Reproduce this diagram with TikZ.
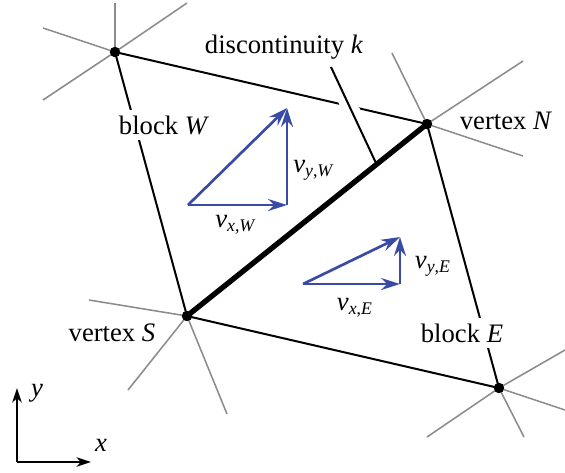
\documentclass[tikz,border=0pt]{standalone}
\usepackage{fontspec}
\setmainfont{Liberation Serif}
\definecolor{vel}{HTML}{3A4BA6}
\definecolor{spokegray}{HTML}{8C8C8C}
\usetikzlibrary{arrows.meta, positioning, calc}
\tikzset{
  vtx/.style={circle, fill=black, inner sep=0pt, minimum size=4.6pt},
  edge/.style={line width=0.9pt},
  spoke/.style={line width=0.7pt, color=spokegray},
  crack/.style={line width=2.4pt, line cap=round},
  vec/.style={-{Stealth[length=3mm, width=1.9mm, inset=1mm]}, line width=1.2pt, color=vel},
  axis/.style={-{Stealth[length=2.3mm, width=1.5mm, inset=0.7mm]}, line width=0.9pt},
  lbl/.style={fill=white, inner sep=2.5pt},
}
\newcommand{\vcomp}[2]{\textit{v}\textsubscript{\textit{#1},\textit{#2}}}

\begin{document}
\begin{tikzpicture}[x=0.45pt, y=-0.45pt, font=\fontsize{12}{14}\selectfont]
  \useasboundingbox (0,0) rectangle (565,472);
  % vertices
  \node[vtx] (vNW) at (115,52) {};
  \node[vtx] (vN) at (427,124) {};
  \node[vtx] (vS) at (187,316) {};
  \node[vtx] (vSE) at (499,388) {};
  % joints of the neighbouring blocks
  \foreach \p in {(115,3),(187,3),(43,28),(43,100)} \draw[spoke] (vNW.center) -- \p;
  \foreach \p in {(392,53),(523,61),(523,156)} \draw[spoke] (vN.center) -- \p;
  \foreach \p in {(89,300),(128,390),(227,414)} \draw[spoke] (vS.center) -- \p;
  \foreach \p in {(565,350),(565,410),(427,437),(524,437)} \draw[spoke] (vSE.center) -- \p;
  % block edges
  \draw[edge] (vNW.center) -- (vN.center) -- (vSE.center) -- (vS.center) -- cycle;
  \coordinate (ktop) at (331,67);
  \coordinate (kfoot) at ($(vS.center)!0.79!(vN.center)$);
  \draw[edge, preaction={draw=white, line width=7.5pt}] (ktop) -- (kfoot);
  \draw[crack] (vS.center) -- (vN.center);
  \foreach \v in {vNW,vN,vS,vSE} \node[vtx] at (\v) {};
  % velocities
  \coordinate (oW) at (188,205); \coordinate (xW) at (287,205); \coordinate (yW) at (287,108);
  \draw[vec] (oW) -- (xW);
  \draw[vec] (xW) -- (yW);
  \draw[vec] (oW) -- (yW);
  \coordinate (oE) at (303,284); \coordinate (xE) at (400,284); \coordinate (yE) at (400,237);
  \draw[vec] (oE) -- (xE);
  \draw[vec] (xE) -- (yE);
  \draw[vec] (oE) -- (yE);
  \node (vxW) at (236,225) {\vcomp{x}{W}};
  \node (vyW) at (314,170) {\vcomp{y}{W}};
  \node (vxE) at (355,308) {\vcomp{x}{E}};
  \node (vyE) at (433,266) {\vcomp{y}{E}};
  % labels
  \node (disc) at (284,47) {discontinuity \textit{k}};
  \node[lbl] (blkW) at (164,125) {block \textit{W}};
  \node[lbl] (blkE) at (462,333) {block \textit{E}};
  \node (labN) at (506,121) {vertex \textit{N}};
  \node (labS) at (112,333) {vertex \textit{S}};
  % axes
  \coordinate (o) at (17,462);
  \coordinate (ox) at (91,462);
  \coordinate (oy) at (17,388);
  \draw[axis] (o) -- (ox);
  \draw[axis] (o) -- (oy);
  \node (lx) at (101,445) {\textit{x}};
  \node (ly) at (37,393) {\textit{y}};
\end{tikzpicture}
\end{document}
